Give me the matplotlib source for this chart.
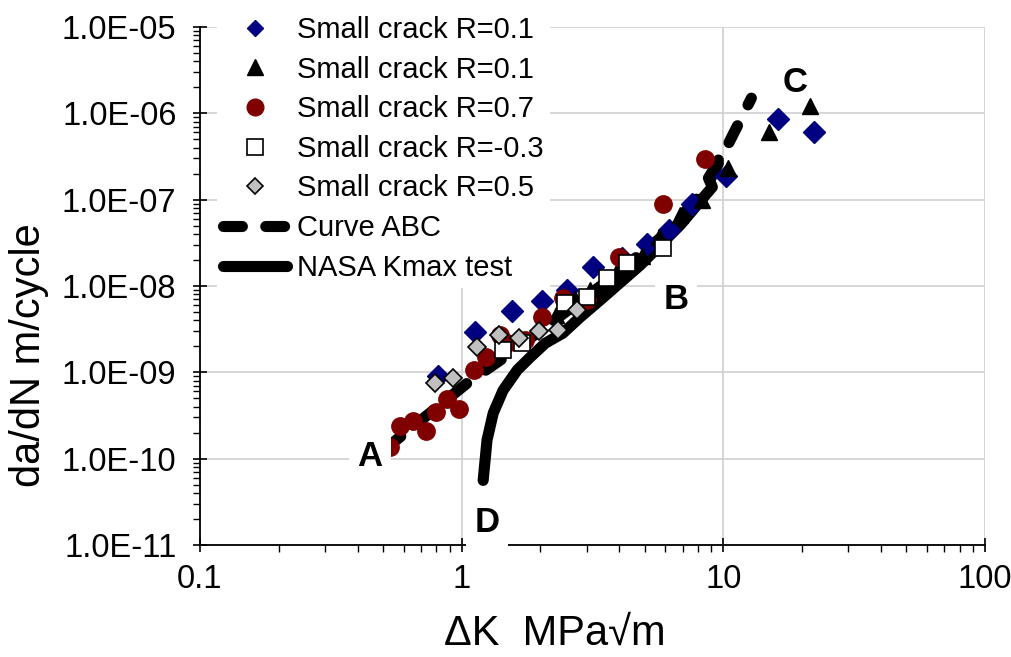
import matplotlib
matplotlib.use("Agg")
import matplotlib.pyplot as plt
from matplotlib.lines import Line2D
from matplotlib.ticker import LogLocator, FuncFormatter, NullFormatter

plt.rcParams['font.family'] = ['Liberation Sans', 'DejaVu Sans']

# ---- data ----
blue_x = [0.81, 1.12, 1.56, 2.03, 2.53, 3.18, 4.1, 5.1, 6.2, 7.6, 10.2, 16.2, 22.3]
blue_y = [9.0e-10, 2.9e-9, 5.1e-9, 6.7e-9, 9.0e-9, 1.66e-8, 2.1e-8, 3.1e-8, 4.4e-8,
          8.9e-8, 1.9e-7, 8.6e-7, 6.1e-7]

tri_x = [1.43, 2.3, 2.7, 3.1, 3.5, 3.9, 4.4, 4.9, 5.7, 6.85, 8.3, 10.4, 15.0, 21.5]
tri_y = [2.0e-9, 4.6e-9, 7.0e-9, 9.0e-9, 1.1e-8, 1.4e-8, 1.85e-8, 2.2e-8, 3.7e-8,
         6.6e-8, 9.9e-8, 2.3e-7, 6.1e-7, 1.2e-6]

red_x = [0.53, 0.58, 0.65, 0.73, 0.80, 0.88, 0.98, 1.11, 1.24, 1.40, 1.49, 1.75,
         2.03, 2.44, 3.0, 4.0, 5.9, 8.5]
red_y = [1.35e-10, 2.4e-10, 2.7e-10, 2.1e-10, 3.45e-10, 4.9e-10, 3.75e-10, 1.06e-9,
         1.5e-9, 2.7e-9, 2.2e-9, 2.4e-9, 4.4e-9, 7.2e-9, 6.9e-9, 2.15e-8, 8.9e-8, 2.95e-7]

sq_x = [1.44, 1.70, 2.49, 3.0, 3.6, 4.3, 5.9]
sq_y = [1.8e-9, 2.2e-9, 6.3e-9, 7.4e-9, 1.25e-8, 1.85e-8, 2.75e-8]

grey_x = [0.79, 0.93, 1.14, 1.39, 1.66, 1.98, 2.34, 2.77]
grey_y = [7.6e-10, 8.5e-10, 1.95e-9, 2.7e-9, 2.5e-9, 3.0e-9, 3.1e-9, 5.3e-9]

abc_x = [0.514, 1.05, 1.44, 3.4, 6.0, 8.5, 10.4, 12.8]
abc_y = [1.32e-10, 7.5e-10, 1.46e-9, 1.0e-8, 4.0e-8, 1.3e-7, 4.3e-7, 1.5e-6]

nasa_x = [1.208, 1.25, 1.32, 1.44, 1.63, 1.83, 2.09, 2.44, 2.84, 3.39, 4.82, 6.85,
          8.54, 9.08, 8.77, 9.25, 9.57]
nasa_y = [5.6e-11, 1.64e-10, 3.37e-10, 6.2e-10, 1.06e-9, 1.5e-9, 2.18e-9, 2.85e-9,
          4.36e-9, 6.9e-9, 1.75e-8, 5.1e-8, 1.13e-7, 1.4e-7, 1.78e-7, 2.32e-7, 2.88e-7]

labels = ["Small crack R=0.1", "Small crack R=0.1", "Small crack R=0.7",
          "Small crack R=-0.3", "Small crack R=0.5", "Curve ABC", "NASA Kmax test"]

# ---- figure ----
W, H = 1011, 657
fig = plt.figure(figsize=(W / 100, H / 100), dpi=100)
ax = fig.add_axes([200 / W, 1 - 545 / H, 785 / W, 518 / H])
ax.set_xscale('log')
ax.set_yscale('log')
ax.set_xlim(0.1, 100)
ax.set_ylim(1e-11, 1e-5)

ax.grid(True, which='major', color='#d0d0d0', lw=1.2, zorder=0)
ax.set_axisbelow(True)
for s in ('top', 'right'):
    ax.spines[s].set_visible(False)
for s in ('left', 'bottom'):
    ax.spines[s].set_linewidth(1.3)

ax.xaxis.set_major_locator(LogLocator(base=10, numticks=10))
ax.xaxis.set_minor_locator(LogLocator(base=10, subs=range(2, 10), numticks=20))
ax.yaxis.set_major_locator(LogLocator(base=10, numticks=10))
ax.yaxis.set_minor_locator(LogLocator(base=10, subs=range(2, 10), numticks=20))
ax.xaxis.set_major_formatter(FuncFormatter(lambda v, p: f"{v:g}"))
ax.yaxis.set_major_formatter(FuncFormatter(lambda v, p: f"{v:.1E}"))
ax.xaxis.set_minor_formatter(NullFormatter())
ax.yaxis.set_minor_formatter(NullFormatter())
ax.tick_params(which='major', direction='inout', length=10, width=1.2, labelsize=23.5)
ax.tick_params(which='minor', direction='out', length=5, width=1.0)
ax.tick_params(axis='y', which='major', pad=12)
ax.tick_params(axis='x', which='major', pad=9)

lw = 8
ax.plot(abc_x, abc_y, color='black', lw=lw, dashes=(1.7, 2.1),
        dash_capstyle='round', zorder=2)
ax.plot(nasa_x, nasa_y, color='black', lw=lw, solid_capstyle='round',
        solid_joinstyle='round', zorder=2)

ax.plot(blue_x, blue_y, ls='none', marker='D', ms=11.5, mfc='#000080', mec='#000080', zorder=3)
ax.plot(tri_x, tri_y, ls='none', marker='^', ms=12, mfc='black', mec='black', zorder=4)
ax.plot(red_x, red_y, ls='none', marker='o', ms=12.5, mfc='#800000', mec='#800000', zorder=5)
ax.plot(sq_x, sq_y, ls='none', marker='s', ms=11, mfc='white', mec='black', mew=1.2, zorder=6)
ax.plot(grey_x, grey_y, ls='none', marker='D', ms=9, mfc='#c0c0c0', mec='black', mew=1.2, zorder=7)

# legend with proxy handles
handles = [
    Line2D([], [], ls='none', marker='D', ms=8.5, mfc='#000080', mec='#000080'),
    Line2D([], [], ls='none', marker='^', ms=11, mfc='black', mec='black'),
    Line2D([], [], ls='none', marker='o', ms=12, mfc='#800000', mec='#800000'),
    Line2D([], [], ls='none', marker='s', ms=11, mfc='white', mec='black', mew=1.2),
    Line2D([], [], ls='none', marker='D', ms=8.5, mfc='#c0c0c0', mec='black', mew=1.2),
    Line2D([], [], color='black', lw=lw, dashes=(1.7, 2.1), dash_capstyle='round'),
    Line2D([], [], color='black', lw=lw, solid_capstyle='round'),
]
leg = fig.legend(handles, labels, loc='upper left',
                 bbox_to_anchor=(217 / W, 1 - 10 / H), bbox_transform=fig.transFigure,
                 prop={'family': 'Liberation Sans', 'size': 21},
                 frameon=True, facecolor='white', edgecolor='none', framealpha=1,
                 fancybox=False, borderpad=0.2, borderaxespad=0, labelspacing=0.4,
                 handlelength=2.2, handletextpad=0.35)
leg.set_zorder(10)

# point labels
lab_kw = dict(fontsize=25, fontweight='bold', ha='center', va='center', zorder=8)
box = dict(facecolor='white', edgecolor='none', pad=6)
ax.text(0.447, 1.07e-10, 'A', bbox=box, **lab_kw)
ax.text(6.6, 6.9e-9, 'B', bbox=box, **lab_kw)
ax.text(18.8, 2.3e-6, 'C', **lab_kw)
ax.text(1.25, 1.84e-11, 'D', bbox=box, **lab_kw)

fig.text(29 / W, 1 - 355 / H, 'da/dN m/cycle', rotation=90, ha='center', va='center',
         fontsize=30)
fig.text(555 / W, 1 - 634 / H, 'ΔK  MPa√m', ha='center', va='center', fontsize=30)

fig.savefig('out.png', dpi=100)
